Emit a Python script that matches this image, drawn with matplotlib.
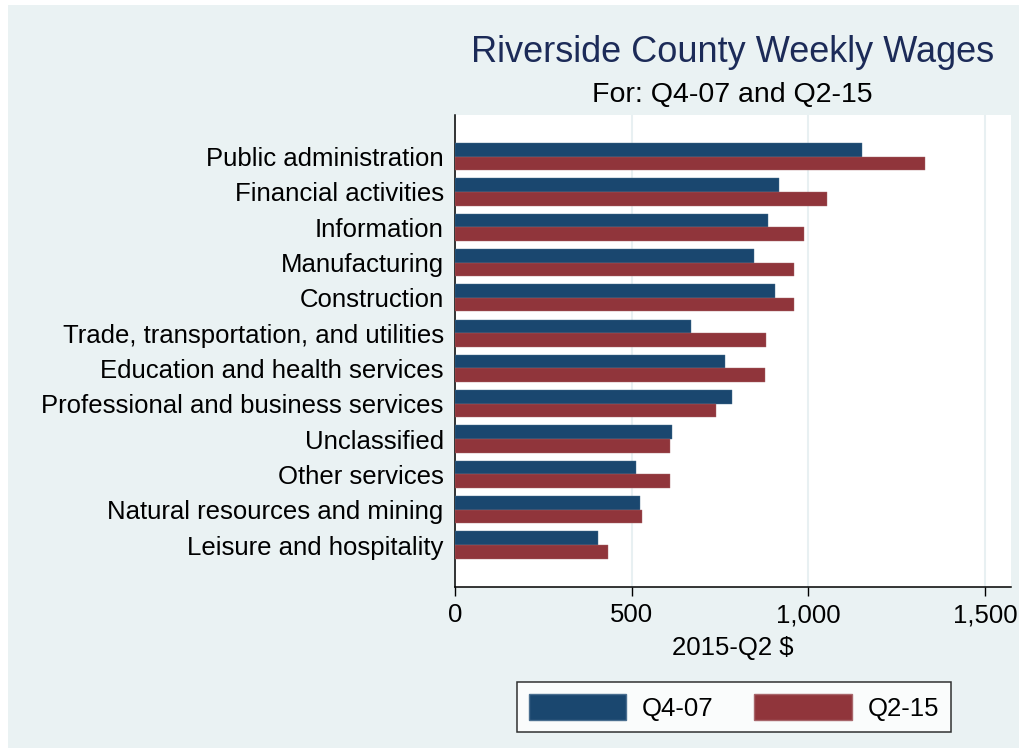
import matplotlib
matplotlib.use("Agg")
from matplotlib import pyplot as plt
from matplotlib.patches import Rectangle, Patch
import numpy as np

plt.rcParams["font.family"] = ["Liberation Sans", "DejaVu Sans"]

industries = [
    "Public administration",
    "Financial activities",
    "Information",
    "Manufacturing",
    "Construction",
    "Trade, transportation, and utilities",
    "Education and health services",
    "Professional and business services",
    "Unclassified",
    "Other services",
    "Natural resources and mining",
    "Leisure and hospitality",
]
wages_q4_07 = [1152, 916, 884, 846, 906, 668, 763, 783, 612, 511, 524, 403]
wages_q2_15 = [1331, 1052, 988, 958, 958, 881, 878, 737, 608, 607, 529, 432]
series_names = ["Q4-07", "Q2-15"]
x_ticks = [0, 500, 1000, 1500]

blue = "#1a476f"
red = "#90353b"
bg = "#eaf2f3"

fig = plt.figure(figsize=(10.27, 7.48), dpi=100)
# light outer region like Stata's graph region
fig.patches.append(Rectangle((0.008, 0.0), 0.984, 0.9935, transform=fig.transFigure,
                             facecolor=bg, edgecolor="none", zorder=-10))

ax = fig.add_axes([0.4435, 0.2152, 0.541, 0.6311])
ax.set_facecolor("white")

pos = np.arange(len(industries))
h = 0.385
ax.barh(pos - h / 2, wages_q4_07, height=h, color=blue, edgecolor="#4a6f90", linewidth=0.3, zorder=3)
ax.barh(pos + h / 2, wages_q2_15, height=h, color=red, edgecolor="#a8666b", linewidth=0.3, zorder=3)

ax.set_ylim(len(industries) - 1 + 1.19, -1.18)
ax.set_xlim(0, 1574)
ax.set_yticks(pos)
ax.set_yticklabels(industries, fontsize=18.5)
ax.set_xticks(x_ticks)
ax.set_xticklabels(["{:,}".format(t) for t in x_ticks], fontsize=18.5)
ax.tick_params(axis="y", length=0, pad=8.5)
ax.tick_params(axis="x", length=6.5, width=1, pad=5)

ax.grid(axis="x", color="#e8f0f2", linewidth=1.5, zorder=0)
for s in ["top", "right"]:
    ax.spines[s].set_visible(False)
ax.spines["left"].set_linewidth(1.1)
ax.spines["bottom"].set_linewidth(1.1)

# titles
fig.text(0.7135, 0.930, "Riverside County Weekly Wages", fontsize=26, color="#1c2b58",
         ha="center", va="center")
fig.text(0.7135, 0.873, "For: Q4-07 and Q2-15", fontsize=20.5, color="black",
         ha="center", va="center")
fig.text(0.7135, 0.134, "2015-Q2 $", fontsize=18.5, ha="center", va="center")

handles = [Patch(facecolor=blue, edgecolor="#4a6f90"), Patch(facecolor=red, edgecolor="#a8666b")]
leg = fig.legend(handles, series_names, loc="center", bbox_to_anchor=(0.7145, 0.0545),
                 ncol=2, fontsize=18.5, frameon=True, fancybox=False,
                 handlelength=3.8, handleheight=1.2, columnspacing=1.6, handletextpad=0.6,
                 borderpad=0.45)
leg.get_frame().set_edgecolor("black")
leg.get_frame().set_linewidth(1.1)

plt.savefig("out.png", dpi=100)
